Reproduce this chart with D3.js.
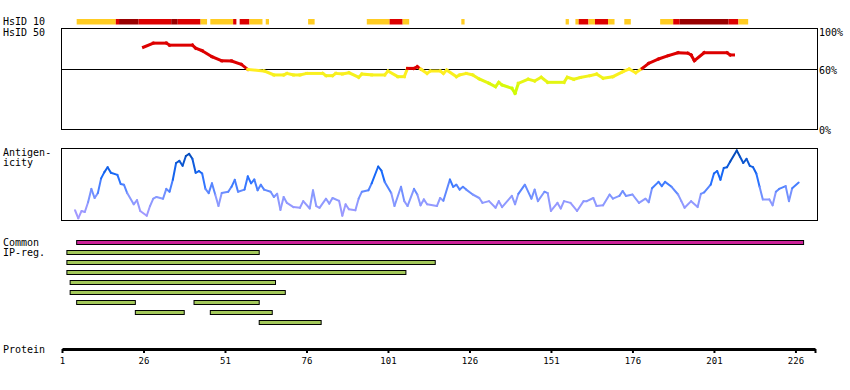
<!DOCTYPE html>
<html>
<head>
<meta charset="UTF-8">
<title>Protein overview</title>
<style>
body { margin: 0; background: #fff; }
text { font-family: "DejaVu Sans Mono", monospace; font-size: 10px; fill: #000; }
.axis text { font-size: 9px; }
.box { fill: none; stroke: #000; stroke-width: 1px; shape-rendering: crispEdges; }
</style>
</head>
<body>
<script src="https://cdn.jsdelivr.net/npm/d3@7/dist/d3.min.js"></script>
<script>

// protein length and axis ticks
var protLen = 232;
var tickVals = [1, 26, 51, 76, 101, 126, 151, 176, 201, 226];

// HsID 10 strip: residue ranges and level (1 = 10%+, 2 = higher, 3 = highest)
var stripStart = [6, 18, 19, 25, 35, 37, 44, 47, 54, 56, 59, 64, 77, 95, 102, 106, 124, 156, 159, 160, 163, 165, 169, 174, 185, 189, 191, 206, 209];
var stripEnd   = [17, 18, 24, 34, 36, 43, 45, 53, 54, 58, 62, 64, 78, 101, 105, 107, 124, 156, 159, 162, 164, 168, 170, 175, 188, 190, 205, 208, 211];
var stripLevel = [1, 2, 3, 2, 3, 2, 1, 1, 2, 2, 1, 1, 1, 1, 2, 1, 1, 1, 1, 2, 1, 2, 1, 1, 1, 2, 3, 2, 1];

// HsID 50 identity (%), by residue
var hsRes = [26, 29, 33, 34, 41, 42, 44, 47, 50, 53, 56, 58, 63, 66, 69, 70, 72, 74, 76, 81, 82, 84, 85, 87, 89, 92, 93, 96, 100, 101, 104, 106, 107, 109, 110, 111, 113, 114, 117, 118, 119, 122, 123, 125, 127, 129, 132, 134, 135, 136, 139, 140, 141, 144, 146, 148, 150, 155, 156, 158, 160, 163, 165, 167, 170, 173, 175, 177, 179, 181, 184, 187, 190, 193, 194, 195, 198, 205, 206, 207];
var hsVal = [82, 86, 86, 84, 84, 81, 78.5, 72.6, 68.6, 68.3, 65, 60, 58.4, 54.5, 54.5, 56, 54.5, 54.5, 56, 56, 53.8, 53.8, 56, 55.5, 56.7, 52.2, 55.4, 54.5, 54.5, 58.4, 52.8, 52.8, 61, 61, 62.7, 60.4, 56, 58.4, 58.4, 56, 59.4, 52.8, 54.5, 56, 54.5, 50.5, 46.2, 42.9, 47.2, 44.6, 41.3, 36.3, 46.2, 50.2, 48.5, 52.2, 47.2, 47.2, 52.2, 50.2, 52, 53.8, 55.4, 51.2, 52.8, 57.7, 60.4, 56.7, 61, 66, 70.3, 73.6, 76.5, 76, 74.3, 68.6, 76.5, 76.5, 74.3, 74.3];

// antigenicity score (0..1), by residue
var antRes = [5, 6, 7, 8, 9, 10, 11, 12, 13, 14, 15, 16, 18, 19, 20, 21, 23, 24, 25, 27, 28, 29, 30, 32, 33, 34, 35, 36, 37, 38, 39, 40, 41, 42, 43, 44, 45, 46, 47, 48, 49, 50, 52, 53, 54, 55, 57, 58, 59, 60, 61, 62, 63, 65, 66, 67, 68, 69, 70, 72, 74, 75, 77, 78, 79, 80, 82, 83, 84, 86, 87, 88, 89, 91, 92, 93, 95, 96, 98, 99, 100, 102, 103, 105, 106, 107, 109, 110, 111, 112, 113, 116, 117, 118, 120, 121, 122, 123, 124, 125, 127, 129, 130, 132, 134, 135, 136, 139, 140, 141, 143, 145, 146, 147, 149, 150, 151, 153, 154, 155, 157, 159, 161, 162, 164, 165, 167, 169, 170, 172, 173, 174, 176, 178, 180, 181, 182, 184, 185, 186, 188, 190, 191, 192, 194, 196, 197, 198, 200, 201, 202, 203, 204, 205, 206, 208, 209, 210, 211, 212, 213, 214, 215, 216, 218, 219, 220, 221, 223, 224, 225, 227];
var antVal = [0.125, 0.01, 0.115, 0.10, 0.24, 0.43, 0.30, 0.37, 0.58, 0.67, 0.74, 0.66, 0.63, 0.50, 0.49, 0.37, 0.21, 0.27, 0.115, 0.046, 0.185, 0.29, 0.315, 0.29, 0.43, 0.39, 0.56, 0.80, 0.83, 0.76, 0.90, 0.93, 0.86, 0.66, 0.685, 0.65, 0.43, 0.37, 0.51, 0.35, 0.185, 0.37, 0.39, 0.46, 0.56, 0.39, 0.42, 0.61, 0.51, 0.565, 0.41, 0.49, 0.42, 0.39, 0.315, 0.36, 0.13, 0.315, 0.23, 0.17, 0.16, 0.255, 0.15, 0.41, 0.185, 0.16, 0.29, 0.22, 0.30, 0.26, 0.046, 0.21, 0.14, 0.125, 0.29, 0.39, 0.41, 0.51, 0.75, 0.69, 0.53, 0.37, 0.185, 0.46, 0.255, 0.185, 0.43, 0.35, 0.195, 0.28, 0.21, 0.185, 0.30, 0.26, 0.565, 0.46, 0.49, 0.42, 0.46, 0.42, 0.35, 0.30, 0.23, 0.255, 0.16, 0.255, 0.17, 0.33, 0.21, 0.36, 0.49, 0.29, 0.42, 0.255, 0.39, 0.37, 0.115, 0.23, 0.15, 0.255, 0.23, 0.115, 0.255, 0.255, 0.30, 0.185, 0.195, 0.35, 0.29, 0.33, 0.40, 0.33, 0.35, 0.23, 0.29, 0.24, 0.44, 0.53, 0.47, 0.53, 0.46, 0.35, 0.255, 0.16, 0.255, 0.17, 0.36, 0.38, 0.49, 0.65, 0.685, 0.56, 0.73, 0.74, 0.82, 0.98, 0.89, 0.80, 0.86, 0.76, 0.74, 0.65, 0.46, 0.28, 0.28, 0.195, 0.39, 0.43, 0.47, 0.255, 0.44, 0.52];

// common region and IP regions (residue ranges, row)
var commonStart = 6, commonEnd = 228;
var regStart = [3, 3, 3, 4, 4, 6, 42, 24, 47, 62];
var regEnd   = [61, 115, 106, 66, 69, 23, 61, 38, 65, 80];
var regRow   = [1, 2, 3, 4, 5, 6, 6, 7, 7, 8];

var width = 850, height = 390;

var svg = d3.select("body").append("svg")
    .attr("width", width)
    .attr("height", height);

var x = d3.scaleLinear().domain([1, protLen]).range([62, 815]);

var boxLeft = 61.5, boxRight = 817.5;

// ---- HsID 10 strip
var stripColor = { 1: "#ffcc22", 2: "#dd0000", 3: "#990000" };
svg.append("g").selectAll("rect")
    .data(stripStart)
    .join("rect")
    .attr("x", function(d) { return x(d - 0.5); })
    .attr("width", function(d, i) { return x(stripEnd[i] + 0.5) - x(d - 0.5); })
    .attr("y", 19)
    .attr("height", 5.5)
    .attr("fill", function(d, i) { return stripColor[stripLevel[i]]; });

svg.append("text").attr("x", 3).attr("y", 25).text("HsID 10");
svg.append("text").attr("x", 3).attr("y", 36).text("HsID 50");

// ---- HsID 50 panel
var yId = d3.scaleLinear().domain([0, 100]).range([130, 29]);
svg.append("rect").attr("class", "box")
    .attr("x", boxLeft).attr("y", yId(100) - 0.5)
    .attr("width", boxRight - boxLeft).attr("height", yId(0) - yId(100));
svg.append("line")
    .attr("x1", boxLeft).attr("x2", boxRight)
    .attr("y1", Math.round(yId(60)) + 0.5).attr("y2", Math.round(yId(60)) + 0.5)
    .attr("stroke", "#000").attr("shape-rendering", "crispEdges");

var idLow = d3.scaleLinear().domain([36, 58]).range(["#c4ff00", "#ffee22"]).clamp(true);
function idColor(v) { return v >= 59.8 ? "#dd0000" : idLow(v); }

var hsPts = hsRes.map(function(r, i) { return [r, hsVal[i]]; });
svg.append("g").selectAll("line")
    .data(d3.pairs(hsPts))
    .join("line")
    .attr("x1", function(d) { return x(d[0][0]); })
    .attr("y1", function(d) { return yId(d[0][1]); })
    .attr("x2", function(d) { return x(d[1][0]); })
    .attr("y2", function(d) { return yId(d[1][1]); })
    .attr("stroke", function(d) { return idColor((d[0][1] + d[1][1]) / 2); })
    .attr("stroke-width", 3)
    .attr("stroke-linecap", "square");

svg.append("text").attr("x", 819).attr("y", 36).text("100%");
svg.append("text").attr("x", 819).attr("y", 74).text("60%");
svg.append("text").attr("x", 819).attr("y", 134).text("0%");

// ---- Antigenicity panel
var yAg = d3.scaleLinear().domain([0, 1]).range([219, 149]);
svg.append("rect").attr("class", "box")
    .attr("x", boxLeft).attr("y", 148.5)
    .attr("width", boxRight - boxLeft).attr("height", 71.5);

var agColor = d3.scaleLinear()
    .domain([0, 0.3, 0.6, 1])
    .range(["#aa99ff", "#8899ff", "#1a6cff", "#0044aa"]);

var agPts = antRes.map(function(r, i) { return [r, antVal[i]]; });
svg.append("g").selectAll("line")
    .data(d3.pairs(agPts))
    .join("line")
    .attr("x1", function(d) { return x(d[0][0]); })
    .attr("y1", function(d) { return yAg(d[0][1]); })
    .attr("x2", function(d) { return x(d[1][0]); })
    .attr("y2", function(d) { return yAg(d[1][1]); })
    .attr("stroke", function(d) { return agColor((d[0][1] + d[1][1]) / 2); })
    .attr("stroke-width", 2)
    .attr("stroke-linecap", "round");

svg.append("text").attr("x", 3).attr("y", 156).text("Antigen-");
svg.append("text").attr("x", 3).attr("y", 166).text("icity");

// ---- Common / IP regions
var rowY = function(r) { return 240.5 + r * 10; };
svg.append("rect")
    .attr("x", x(commonStart - 0.5)).attr("y", rowY(0))
    .attr("width", x(commonEnd + 0.5) - x(commonStart - 0.5)).attr("height", 4)
    .attr("fill", "#cc2299").attr("stroke", "#000");

svg.append("g").selectAll("rect")
    .data(regStart)
    .join("rect")
    .attr("x", function(d) { return x(d - 0.5); })
    .attr("width", function(d, i) { return x(regEnd[i] + 0.5) - x(d - 0.5); })
    .attr("y", function(d, i) { return rowY(regRow[i]); })
    .attr("height", 4)
    .attr("fill", "#a3c85a")
    .attr("stroke", "#000");

svg.append("text").attr("x", 3).attr("y", 246).text("Common");
svg.append("text").attr("x", 3).attr("y", 256).text("IP-reg.");

// ---- Protein axis
svg.append("text").attr("x", 3).attr("y", 353).text("Protein");

var axis = svg.append("g").attr("class", "axis")
    .attr("transform", "translate(0,349)")
    .call(d3.axisBottom(x)
        .tickValues(tickVals.concat([protLen]))
        .tickFormat(function(d) { return d === protLen ? "" : d; })
        .tickSize(4)
        .tickSizeOuter(0)
        .tickPadding(5));
axis.select(".domain").attr("stroke-width", 3);
axis.selectAll(".tick line").attr("stroke-width", 2);
axis.selectAll(".tick text").attr("font-family", null).attr("font-size", null);

</script>
</body>
</html>
